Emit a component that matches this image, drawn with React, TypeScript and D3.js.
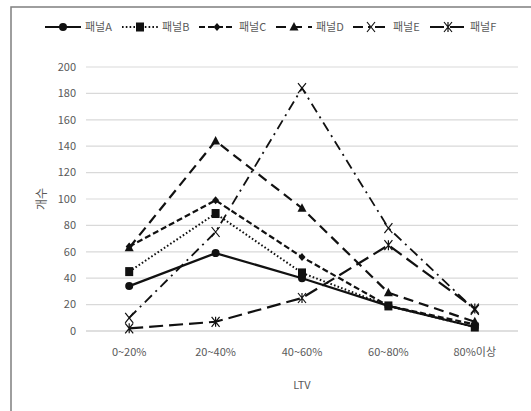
import React from "react";
import * as d3 from "d3";

const categories = ["0~20%", "20~40%", "40~60%", "60~80%", "80%이상"];
const seriesNames = ["패널A", "패널B", "패널C", "패널D", "패널E", "패널F"];
const panelA = [34, 59, 40, 19, 3];
const panelB = [45, 89, 44, 19, 3];
const panelC = [64, 99, 56, 19, 5];
const panelD = [63, 144, 93, 29, 7];
const panelE = [10, 75, 184, 78, 16];
const panelF = [2, 7, 25, 65, 17];
const yTicks = [0, 20, 40, 60, 80, 100, 120, 140, 160, 180, 200];
const yTitle = "개수";
const xTitle = "LTV";

const seriesValues = [panelA, panelB, panelC, panelD, panelE, panelF];
const styles = [
  { dash: "", width: 2.2, marker: "circle" },
  { dash: "1.6,2.2", width: 2, marker: "square" },
  { dash: "6,3", width: 2.2, marker: "diamond" },
  { dash: "10,6", width: 2.2, marker: "triangle" },
  { dash: "10,5,2,5", width: 1.8, marker: "x" },
  { dash: "14,6", width: 2.2, marker: "asterisk" },
];

const W = 531, H = 411;
const M = { left: 86, right: 518, top: 67, bottom: 331 };
const FONT = "'Noto Sans CJK KR', 'Noto Sans', sans-serif";
const TXT = "#595959";

function Marker({ type, x, y }: { type: string; x: number; y: number }) {
  const c = "#111";
  if (type === "circle") return <circle cx={x} cy={y} r={4} fill={c} />;
  if (type === "square") return <rect x={x - 4} y={y - 4.5} width={8} height={9} fill={c} />;
  if (type === "diamond") return <path d={`M${x},${y - 4}L${x + 3.5},${y}L${x},${y + 4}L${x - 3.5},${y}Z`} fill={c} />;
  if (type === "triangle") return <path d={`M${x},${y - 5}L${x + 4.5},${y + 3.5}L${x - 4.5},${y + 3.5}Z`} fill={c} />;
  if (type === "x")
    return <path d={`M${x - 4},${y - 5}L${x + 4},${y + 5}M${x + 4},${y - 5}L${x - 4},${y + 5}`} stroke={c} strokeWidth={1.2} fill="none" />;
  return (
    <path
      d={`M${x - 4},${y - 5}L${x + 4},${y + 5}M${x + 4},${y - 5}L${x - 4},${y + 5}M${x},${y - 5}L${x},${y + 5}`}
      stroke={c}
      strokeWidth={1.2}
      fill="none"
    />
  );
}

export default function App() {
  const x = d3.scaleBand<string>().domain(categories).range([M.left, M.right]);
  const y = d3.scaleLinear().domain([0, 200]).range([M.bottom, M.top]);
  const cx = (c: string) => (x(c) ?? 0) + x.bandwidth() / 2;
  const line = d3
    .line<number>()
    .x((_, i) => cx(categories[i]))
    .y((d) => y(d));

  const legendX0 = 45, legendPitch = 77, legendY = 27;

  return (
    <svg width={W} height={H} style={{ position: "absolute", left: 0, top: 0, background: "#fff" }} fontFamily={FONT}>
      <rect x={11} y={7} width={W} height={H} fill="#fff" stroke="#7f7f7f" strokeWidth={1.5} />
      {yTicks.map((t) => (
        <g key={t}>
          <line x1={M.left} x2={M.right} y1={y(t)} y2={y(t)} stroke={t === 0 ? "#bfbfbf" : "#d9d9d9"} strokeWidth={1.2} />
          <text x={76} y={y(t)} dy="0.35em" textAnchor="end" fontSize={11} fill={TXT}>
            {t}
          </text>
        </g>
      ))}
      {categories.map((c) => (
        <text key={c} x={cx(c)} y={356} textAnchor="middle" fontSize={11} fill={TXT}>
          {c}
        </text>
      ))}
      <text x={(M.left + M.right) / 2} y={389} textAnchor="middle" fontSize={11} fill={TXT}>
        {xTitle}
      </text>
      <text transform={`translate(46,${(M.top + M.bottom) / 2}) rotate(-90)`} textAnchor="middle" fontSize={12} fill={TXT}>
        {yTitle}
      </text>
      {seriesValues.map((vals, si) => (
        <g key={si}>
          <path d={line(vals) ?? ""} fill="none" stroke="#111" strokeWidth={styles[si].width} strokeDasharray={styles[si].dash} />
          {vals.map((v, i) => (
            <Marker key={i} type={styles[si].marker} x={cx(categories[i])} y={y(v)} />
          ))}
        </g>
      ))}
      {seriesNames.map((n, si) => {
        const lx = legendX0 + si * legendPitch;
        return (
          <g key={n}>
            <line x1={lx} x2={lx + 36} y1={legendY} y2={legendY} stroke="#111" strokeWidth={styles[si].width} strokeDasharray={styles[si].dash} />
            <Marker type={styles[si].marker} x={lx + 18} y={legendY} />
            <text x={lx + 40} y={legendY} dy="0.35em" fontSize={11} fill={TXT}>
              {n}
            </text>
          </g>
        );
      })}
    </svg>
  );
}
